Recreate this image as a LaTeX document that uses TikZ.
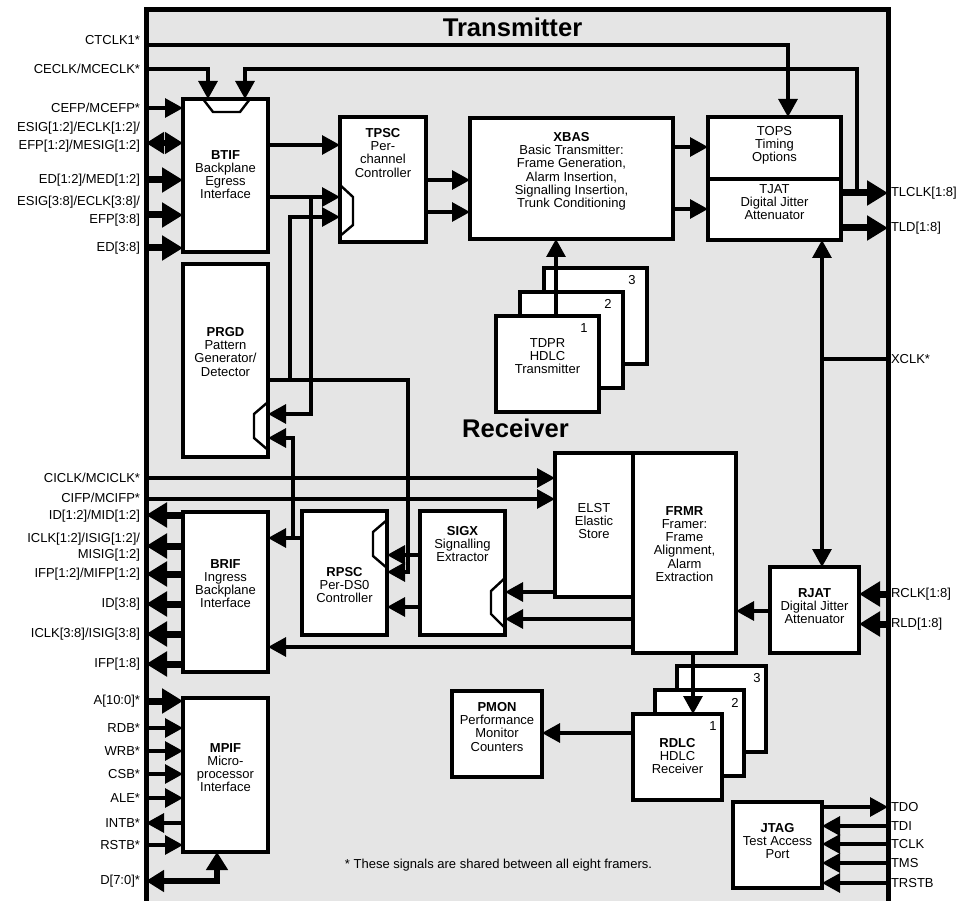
\documentclass[tikz,border=0pt]{standalone}
\usepackage{fontspec}
\setmainfont{Liberation Sans}
\usetikzlibrary{arrows.meta, positioning, calc}

\definecolor{chipgray}{RGB}{229,229,229}

\begin{document}
\begin{tikzpicture}[
  x=1pt, y=-1pt,
  every node/.style={font=\fontsize{13}{13.2}\selectfont, inner sep=0pt, outer sep=0pt},
  blk/.style={draw, fill=white, line width=3.3pt},
  txt/.style={align=center},
  pinl/.style={align=right, font=\fontsize{13}{18}\selectfont},
  wire/.style={line width=3.1pt},
  sig/.style={wire, -{Triangle[length=18pt,width=19pt]}},
  bus/.style={line width=7pt, -{Triangle[length=21pt,width=24pt]}},
  dbus/.style={line width=5.8pt, {Triangle[length=18pt,width=21pt]}-{Triangle[length=18pt,width=21pt]}},
  notch/.style={line width=2.4pt},
  title/.style={font=\fontsize{25.6}{28}\selectfont\bfseries}
]
\useasboundingbox (0,0) rectangle (972,901);

% Chip outline
\fill[chipgray] (146,10) rectangle (888,901);
\draw[line width=5pt] (146,901) -- (146,10) -- (888,10) -- (888,901);

\node[title] (txtitle) at (512.5,27) {Transmitter};
\node[title] (rxtitle) at (515.5,428) {Receiver};

% Pins, left side
\coordinate (pctclk) at (146,45);
\coordinate (pceclk) at (146,69);
\coordinate (pcefp) at (146,108);
\coordinate (pesiga) at (146,143);
\coordinate (peda) at (146,180);
\coordinate (pesigb) at (146,215);
\coordinate (pedb) at (146,248);
\coordinate (pciclk) at (146,478);
\coordinate (pcifp) at (146,499);
\coordinate (pida) at (146,515);
\coordinate (piclka) at (146,546);
\coordinate (pifpa) at (146,574);
\coordinate (pidb) at (146,604);
\coordinate (piclkb) at (146,634);
\coordinate (pifpb) at (146,664);
\coordinate (paddr) at (146,701);
\coordinate (prdb) at (146,728);
\coordinate (pwrb) at (146,751);
\coordinate (pcsb) at (146,774);
\coordinate (pale) at (146,798);
\coordinate (pintb) at (146,823);
\coordinate (prstb) at (146,845);
\coordinate (pdata) at (146,881);

% Pins, right side
\coordinate (ptlclk) at (888,193);
\coordinate (ptld) at (888,228);
\coordinate (pxclk) at (888,359);
\coordinate (prclk) at (888,594);
\coordinate (prld) at (888,624);
\coordinate (ptdo) at (888,807);
\coordinate (ptdi) at (888,826);
\coordinate (ptclk) at (888,844);
\coordinate (ptms) at (888,863);
\coordinate (ptrstb) at (888,883);

\node[pinl, left=6pt of pctclk, yshift=5pt] (lctclk) {CTCLK1*};
\node[pinl, left=6pt of pceclk] (lceclk) {CECLK/MCECLK*};
\node[pinl, left=6pt of pcefp] (lcefp) {CEFP/MCEFP*};
\node[pinl, left=6pt of pesiga, yshift=5.5pt] (lesiga) {ESIG[1:2]/ECLK[1:2]/\\EFP[1:2]/MESIG[1:2]};
\node[pinl, left=6pt of peda] (leda) {ED[1:2]/MED[1:2]};
\node[pinl, left=6pt of pesigb, yshift=3.5pt] (lesigb) {ESIG[3:8]/ECLK[3:8]/\\EFP[3:8]};
\node[pinl, left=6pt of pedb] (ledb) {ED[3:8]};
\node[pinl, left=6pt of pciclk] (lciclk) {CICLK/MCICLK*};
\node[pinl, left=6pt of pcifp, yshift=1.5pt] (lcifp) {CIFP/MCIFP*};
\node[pinl, left=6pt of pida, yshift=-1.5pt] (lida) {ID[1:2]/MID[1:2]};
\node[pinl, left=6pt of piclka, yshift=-1pt] (liclka) {ICLK[1:2]/ISIG[1:2]/\\[-2pt]MISIG[1:2]};
\node[pinl, left=6pt of pifpa] (lifpa) {IFP[1:2]/MIFP[1:2]};
\node[pinl, left=6pt of pidb] (lidb) {ID[3:8]};
\node[pinl, left=6pt of piclkb] (liclkb) {ICLK[3:8]/ISIG[3:8]};
\node[pinl, left=6pt of pifpb] (lifpb) {IFP[1:8]};
\node[pinl, left=6pt of paddr] (laddr) {A[10:0]*};
\node[pinl, left=6pt of prdb] (lrdb) {RDB*};
\node[pinl, left=6pt of pwrb] (lwrb) {WRB*};
\node[pinl, left=6pt of pcsb] (lcsb) {CSB*};
\node[pinl, left=6pt of pale] (lale) {ALE*};
\node[pinl, left=6pt of pintb] (lintb) {INTB*};
\node[pinl, left=6pt of prstb] (lrstb) {RSTB*};
\node[pinl, left=6pt of pdata] (ldata) {D[7:0]*};

\node[right=3pt of ptlclk] (ltlclk) {TLCLK[1:8]};
\node[right=3pt of ptld] (ltld) {TLD[1:8]};
\node[right=3pt of pxclk] (lxclk) {XCLK*};
\node[right=3pt of prclk] (lrclk) {RCLK[1:8]};
\node[right=3pt of prld] (lrld) {RLD[1:8]};
\node[right=3pt of ptdo] (ltdo) {TDO};
\node[right=3pt of ptdi] (ltdi) {TDI};
\node[right=3pt of ptclk] (ltclk) {TCLK};
\node[right=3pt of ptms] (ltms) {TMS};
\node[right=3pt of ptrstb] (ltrstb) {TRSTB};

% Transmitter blocks
\node[blk, minimum width=85, minimum height=153] (btif) at (225.5,175.5) {};
\node[txt, below=51.4pt of btif.north] (btift) {\textbf{BTIF}\\Backplane\\Egress\\Interface};
\node[blk, minimum width=85, minimum height=193] (prgd) at (225.5,360.5) {};
\node[txt, below=63.4pt of prgd.north] (prgdt) {\textbf{PRGD}\\Pattern\\Generator/\\Detector};
\node[blk, minimum width=86, minimum height=125] (tpsc) at (383,179.5) {};
\node[txt, below=11.4pt of tpsc.north] (tpsct) {\textbf{TPSC}\\Per-\\channel\\Controller};
\node[blk, minimum width=203, minimum height=121] (xbas) at (571.5,178.5) {};
\node[txt, below=14.4pt of xbas.north] (xbast) {\textbf{XBAS}\\Basic Transmitter:\\Frame Generation,\\Alarm Insertion,\\Signalling Insertion,\\Trunk Conditioning};
\node[blk, minimum width=133, minimum height=62] (tops) at (774.5,148) {};
\node[txt, below=9.4pt of tops.north] (topst) {TOPS\\Timing\\Options};
\node[blk, minimum width=133, minimum height=61] (tjat) at (774.5,209.5) {};
\node[txt, below=5.4pt of tjat.north] (tjatt) {TJAT\\Digital Jitter\\Attenuator};

% TDPR stack
\node[blk, minimum width=103, minimum height=96] (tdprc) at (595.5,316) {};
\node[blk, minimum width=103, minimum height=96] (tdprb) at ([shift={(-24,24)}]tdprc) {};
\node[blk, minimum width=103, minimum height=96] (tdpra) at ([shift={(-24,24)}]tdprb) {};
\node (tdprcn) at ([shift={(-15,12)}]tdprc.north east) {3};
\node (tdprbn) at ([shift={(-15,12)}]tdprb.north east) {2};
\node (tdpran) at ([shift={(-15,12)}]tdpra.north east) {1};
\node[txt, below=22.4pt of tdpra.north] (tdprt) {TDPR\\HDLC\\Transmitter};

% Receiver blocks
\node[blk, minimum width=78, minimum height=144] (elst) at (594,525) {};
\node[txt, below=50.4pt of elst.north] (elstt) {ELST\\Elastic\\Store};
\node[blk, minimum width=103, minimum height=200] (frmr) at (684.5,553) {};
\node[txt, below=53.4pt of frmr.north] (frmrt) {\textbf{FRMR}\\Framer:\\Frame\\Alignment,\\Alarm\\Extraction};
\node[blk, minimum width=85, minimum height=124] (sigx) at (462.5,573) {};
\node[txt, below=15.4pt of sigx.north] (sigxt) {\textbf{SIGX}\\Signalling\\Extractor};
\node[blk, minimum width=85, minimum height=124] (rpsc) at (344.5,573) {};
\node[txt, below=56.4pt of rpsc.north] (rpsct) {\textbf{RPSC}\\Per-DS0\\Controller};
\node[blk, minimum width=85, minimum height=160] (brif) at (225.5,592) {};
\node[txt, below=47.4pt of brif.north] (brift) {\textbf{BRIF}\\Ingress\\Backplane\\Interface};
\node[blk, minimum width=89, minimum height=86] (rjat) at (814.5,610) {};
\node[txt, below=21.4pt of rjat.north] (rjatt) {\textbf{RJAT}\\Digital Jitter\\Attenuator};
\node[blk, minimum width=90, minimum height=86] (pmon) at (497,734) {};
\node[txt, below=11.4pt of pmon.north] (pmont) {\textbf{PMON}\\Performance\\Monitor\\Counters};

% RDLC stack
\node[blk, minimum width=89, minimum height=86] (rdlcc) at (721.5,709) {};
\node[blk, minimum width=89, minimum height=86] (rdlcb) at ([shift={(-22,24)}]rdlcc) {};
\node[blk, minimum width=89, minimum height=86] (rdlca) at ([shift={(-22,24)}]rdlcb) {};
\node (rdlccn) at ([shift={(-9,12.5)}]rdlcc.north east) {3};
\node (rdlcbn) at ([shift={(-9,12.5)}]rdlcb.north east) {2};
\node (rdlcan) at ([shift={(-9,12.5)}]rdlca.north east) {1};
\node[txt, below=24.4pt of rdlca.north] (rdlct) {\textbf{RDLC}\\HDLC\\Receiver};

\node[blk, minimum width=85, minimum height=154] (mpif) at (225.5,775) {};
\node[txt, below=45.4pt of mpif.north] (mpift) {\textbf{MPIF}\\Micro-\\processor\\Interface};
\node[blk, minimum width=89, minimum height=86] (jtag) at (777.5,845) {};
\node[txt, below=21.4pt of jtag.north] (jtagt) {\textbf{JTAG}\\Test Access\\Port};

\node (note) at (498.5,865) {* These signals are shared between all eight framers.};

% Clock inputs (notches)
\draw[notch] (btif.north west) ++(20,0) -- ++(10,13) -- ++(27,0) -- ++(10,-13);
\draw[notch] (tpsc.west |- 0,185) -- ++(13,12) -- ++(0,28) -- ++(-13,11);
\draw[notch] (prgd.east |- 0,402) -- ++(-14,12) -- ++(0,24) -- ++(14,12);
\draw[notch] (rpsc.east |- 0,520) -- ++(-14,12) -- ++(0,24) -- ++(14,12);
\draw[notch] (sigx.east |- 0,578) -- ++(-14,13) -- ++(0,23) -- ++(14,14);

% Transmit connections
\draw[sig] (pctclk) -| ([xshift=13.5pt]tops.north);
\draw[sig] (pceclk) -| ([xshift=-17.5pt]btif.north);
\coordinate (tlfb) at (857,193);
\draw[sig] (tlfb) -- (tlfb |- pceclk) -| ([xshift=19.5pt]btif.north);
\draw[sig] (pcefp) -- (btif.west |- pcefp);
\draw[dbus] (pesiga) -- (btif.west |- pesiga);
\draw[bus] (peda) -- (btif.west |- peda);
\draw[bus] (pesigb) -- (btif.west |- pesigb);
\draw[bus] (pedb) -- (btif.west |- pedb);

\draw[sig] (btif.east |- 0,145) -- (tpsc.west |- 0,145);
\draw[sig] (btif.east |- 0,197) -- (tpsc.west |- 0,197);
\coordinate (j1) at (311,197);
\draw[sig] (j1) |- (prgd.east |- 0,414);
\draw[sig] (prgd.east |- 0,380) -| (408,572) -- (rpsc.east |- 0,572);
\coordinate (j2) at (290,380);
\draw[sig] (j2) |- (tpsc.west |- 0,217);

\draw[sig] (tpsc.east |- 0,180) -- (xbas.west |- 0,180);
\draw[sig] (tpsc.east |- 0,212) -- (xbas.west |- 0,212);
\draw[sig] (xbas.east |- 0,147) -- (tops.west |- 0,147);
\draw[sig] (xbas.east |- 0,209) -- (tjat.west |- 0,209);
\draw[bus] (tjat.east |- ptlclk) -- (ptlclk);
\draw[bus] (tjat.east |- ptld) -- (ptld);
\draw[sig] (tdpra.north -| 556,0) -- (xbas.south -| 556,0);

% XCLK
\draw[wire, {Triangle[length=18pt,width=19pt]}-{Triangle[length=18pt,width=19pt]}] (tjat.south -| 822,0) -- (rjat.north -| 822,0);
\coordinate (jx) at (822,359);
\draw[wire] (pxclk) -- (jx);

% Receive connections
\draw[sig] (pciclk) -- (elst.west |- pciclk);
\draw[sig] (pcifp) -- (elst.west |- pcifp);
\draw[sig] (elst.west |- 0,592) -- (sigx.east |- 0,592);
\draw[sig] (frmr.west |- 0,619) -- (sigx.east |- 0,619);
\draw[sig] (frmr.west |- 0,647) -- (brif.east |- 0,647);
\draw[sig] (sigx.west |- 0,555) -- (rpsc.east |- 0,555);
\draw[sig] (sigx.west |- 0,607) -- (rpsc.east |- 0,607);
\draw[sig] (rpsc.west |- 0,538) -- (brif.east |- 0,538);
\coordinate (j3) at (293,538);
\draw[sig] (j3) |- (prgd.east |- 0,438);

\draw[bus] (brif.west |- pida) -- (pida);
\draw[bus] (brif.west |- piclka) -- (piclka);
\draw[bus] (brif.west |- pifpa) -- (pifpa);
\draw[bus] (brif.west |- pidb) -- (pidb);
\draw[bus] (brif.west |- piclkb) -- (piclkb);
\draw[bus] (brif.west |- pifpb) -- (pifpb);

\draw[bus] (prclk) -- (rjat.east |- prclk);
\draw[bus] (prld) -- (rjat.east |- prld);
\draw[sig] (rjat.west |- 0,611) -- (frmr.east |- 0,611);
\draw[sig] (frmr.south -| 693,0) -- (rdlca.north -| 693,0);
\draw[sig] (rdlca.west |- 0,733) -- (pmon.east |- 0,733);

% Microprocessor interface
\draw[bus] (paddr) -- (mpif.west |- paddr);
\draw[sig] (prdb) -- (mpif.west |- prdb);
\draw[sig] (pwrb) -- (mpif.west |- pwrb);
\draw[sig] (pcsb) -- (mpif.west |- pcsb);
\draw[sig] (pale) -- (mpif.west |- pale);
\draw[sig] (mpif.west |- pintb) -- (pintb);
\draw[sig] (prstb) -- (mpif.west |- prstb);
\draw[dbus] (pdata) -| ([xshift=-8.5pt]mpif.south);

% JTAG
\draw[sig] (jtag.east |- ptdo) -- (ptdo);
\draw[sig] (ptdi) -- (jtag.east |- ptdi);
\draw[sig] (ptclk) -- (jtag.east |- ptclk);
\draw[sig] (ptms) -- (jtag.east |- ptms);
\draw[sig] (ptrstb) -- (jtag.east |- ptrstb);
\end{tikzpicture}
\end{document}
